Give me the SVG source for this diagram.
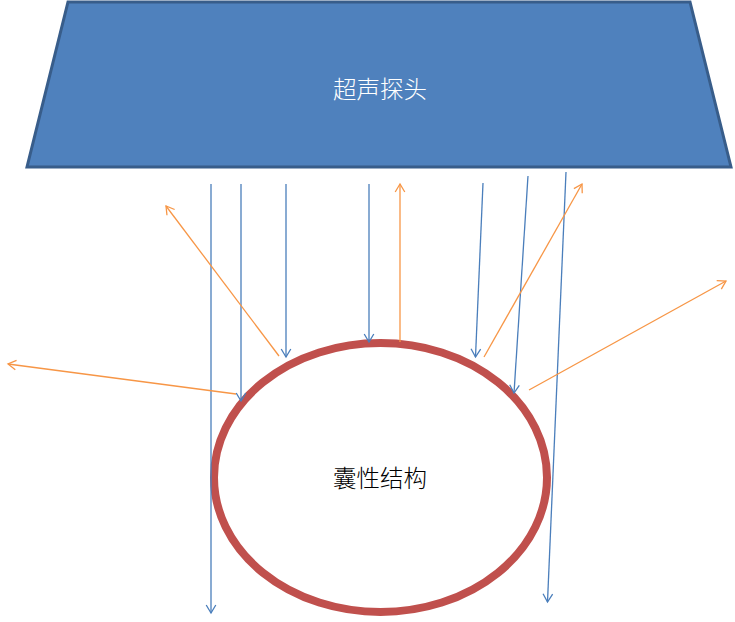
<svg xmlns="http://www.w3.org/2000/svg" width="735" height="622" viewBox="0 0 735 622">
<style>
.blue{stroke:#4A7EBB;stroke-width:1.3;fill:none;marker-end:url(#ab)}
.orange{stroke:#F79646;stroke-width:1.3;fill:none;marker-end:url(#ao)}
.lbl{font-family:"Noto Sans CJK SC","Liberation Sans",sans-serif;font-size:23.5px;font-weight:300;text-anchor:middle;dominant-baseline:central}
</style>
<defs>
<marker id="ab" markerUnits="userSpaceOnUse" markerWidth="14" markerHeight="14" viewBox="-11 -7 14 14" refX="0" refY="0" orient="auto">
<path d="M-8,-4.8 L0,0 L-8,4.8" fill="none" stroke="#4A7EBB" stroke-width="1.3"/>
</marker>
<marker id="ao" markerUnits="userSpaceOnUse" markerWidth="14" markerHeight="14" viewBox="-11 -7 14 14" refX="0" refY="0" orient="auto">
<path d="M-8,-4.8 L0,0 L-8,4.8" fill="none" stroke="#F79646" stroke-width="1.3"/>
</marker>
</defs>
<rect width="735" height="622" fill="#FFFFFF"/>
<g id="probe">
<polygon points="68,2 690,2 731,167 27,167" fill="#4F81BD" stroke="#385D8A" stroke-width="3" stroke-linejoin="miter"/>
<text class="lbl" x="380" y="88" fill="#FFFFFF">超声探头</text>
</g>
<g id="cyst">
<ellipse cx="380.5" cy="477.5" rx="166.5" ry="134.5" fill="#FFFFFF" stroke="#C0504D" stroke-width="8"/>
<text class="lbl" x="380" y="477" fill="#000000">囊性结构</text>
</g>
<g id="connectors">
<line class="blue" x1="211" y1="184" x2="211" y2="613"/>
<line class="blue" x1="241" y1="184" x2="241" y2="401"/>
<line class="blue" x1="286" y1="184" x2="286" y2="357"/>
<line class="blue" x1="369" y1="184" x2="369" y2="342"/>
<line class="blue" x1="483" y1="183" x2="475.5" y2="357"/>
<line class="blue" x1="528" y1="176" x2="514" y2="393"/>
<line class="blue" x1="566" y1="172" x2="547.5" y2="602"/>
<line class="orange" x1="400" y1="342" x2="400" y2="184"/>
<line class="orange" x1="279" y1="356" x2="166" y2="206"/>
<line class="orange" x1="236" y1="394" x2="8" y2="364"/>
<line class="orange" x1="484" y1="357" x2="582" y2="184"/>
<line class="orange" x1="529" y1="390" x2="726" y2="281"/>
</g>
</svg>
